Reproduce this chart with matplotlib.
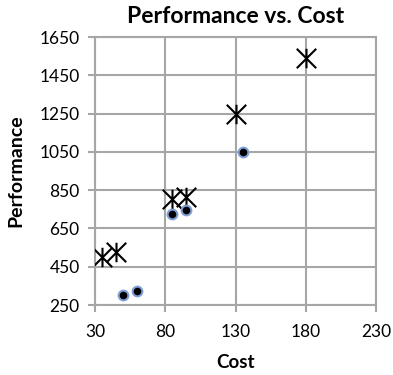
import matplotlib
matplotlib.use('Agg')
import matplotlib.pyplot as plt
from matplotlib.path import Path

# Data
star_cost = [35, 45, 85, 95, 130, 180]
star_perf = [500, 525, 805, 815, 1250, 1540]
dot_cost = [50, 60, 85, 95, 135]
dot_perf = [300, 325, 725, 745, 1050]

x_ticks = [30, 80, 130, 180, 230]
y_ticks = [250, 450, 650, 850, 1050, 1250, 1450, 1650]

plt.rcParams['font.family'] = ['Lato', 'DejaVu Sans']
GRID = '#a6a6a6'

# Excel-style star: an X with a vertical bar through it
star = Path([(-1, -1), (1, 1), (-1, 1), (1, -1), (0, -1), (0, 1)],
            [Path.MOVETO, Path.LINETO, Path.MOVETO, Path.LINETO, Path.MOVETO, Path.LINETO])

fig = plt.figure(figsize=(3.93, 3.75), dpi=100)
ax = fig.add_axes([95 / 393, 70 / 375, 281 / 393, 268 / 375])

ax.plot(star_cost, star_perf, linestyle='none', marker=star, markersize=14,
        markeredgecolor='black', markeredgewidth=1.5, zorder=3)
ax.plot(dot_cost, dot_perf, linestyle='none', marker='o', markersize=7,
        markerfacecolor='black', markeredgecolor='#7f9fd4', markeredgewidth=1.5, zorder=3)

ax.set_xlim(30, 230)
ax.set_ylim(250, 1650)
ax.set_xticks(x_ticks)
ax.set_yticks(y_ticks)
ax.grid(True, color=GRID, linewidth=1.5)
ax.set_axisbelow(True)
for s in ax.spines.values():
    s.set_color(GRID)
    s.set_linewidth(1.5)
ax.tick_params(direction='out', length=5, width=1.5, color=GRID,
               labelsize=12.5, labelcolor='black', pad=6)
ax.tick_params(axis='x', pad=9)

ax.set_title('Performance vs. Cost', fontsize=16.5, fontweight='bold', pad=10)
ax.set_xlabel('Cost', fontsize=13.5, fontweight='bold', labelpad=10)
ax.set_ylabel('Performance', fontsize=14, fontweight='bold', labelpad=11)

fig.savefig('out.png', dpi=100)
